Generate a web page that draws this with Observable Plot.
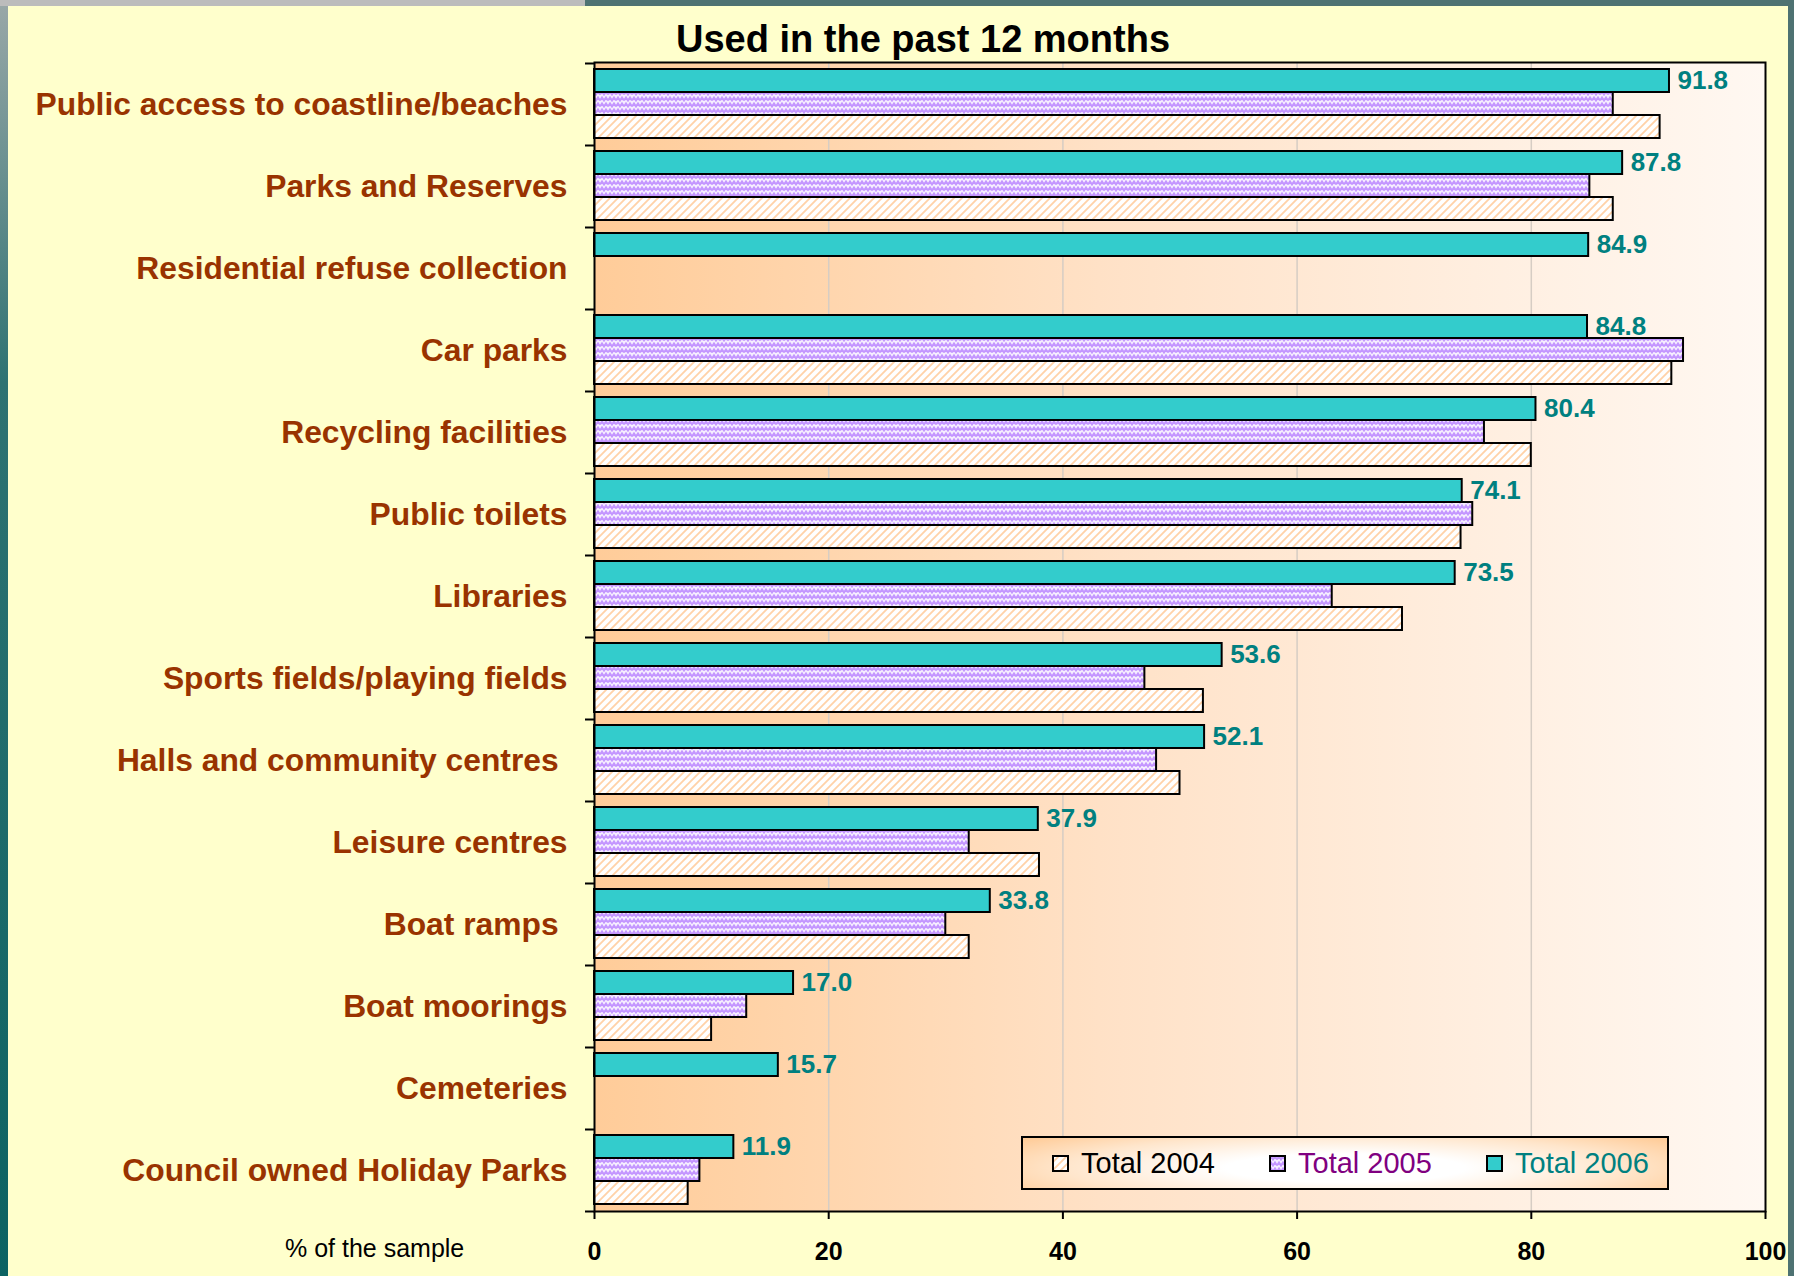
<!DOCTYPE html>
<html>
<head>
<meta charset="utf-8">
<script src="https://cdn.jsdelivr.net/npm/d3@7"></script>
<script src="https://cdn.jsdelivr.net/npm/@observablehq/plot@0.6"></script>
<style>
  html, body { margin: 0; padding: 0; }
  body { width: 1794px; height: 1276px; overflow: hidden; position: relative; background: #4e7272; font-family: "Liberation Sans", Arial, sans-serif; }
  #leftStrip { position: absolute; left: 0; top: 0; width: 8px; height: 1276px; background: linear-gradient(#9aa8a8, #2e7272 30%, #0c6262); }
  #topStrip { position: absolute; left: 0; top: 0; width: 585px; height: 6px; background: #bcbcbc; }
  #panel { position: absolute; left: 8px; top: 6px; width: 1780px; height: 1270px; background: #FFFFCC; }
  #chart { position: absolute; left: 0; top: 0; }
  #title { position: absolute; left: 923px; top: 20px; transform: translateX(-50%); font-size: 38px; font-weight: bold; line-height: 1; color: #000; white-space: nowrap; }
  #xlabel { position: absolute; left: 285px; top: 1236px; font-size: 25px; line-height: 1; color: #000; white-space: nowrap; }
  #legend { position: absolute; left: 1021px; top: 1136px; width: 644px; height: 50px; border: 2px solid #000;
    background: radial-gradient(ellipse 62% 95% at 50% 60%, #ffffff 30%, #ffe6cc 70%, #ffcc99 100%); }
  .item { position: absolute; top: 0; height: 50px; display: flex; align-items: center; font-size: 29px; line-height: 1; white-space: nowrap; }
  .item svg { margin-right: 12px; }
</style>
</head>
<body>
<div id="leftStrip"></div>
<div id="topStrip"></div>
<div id="panel"></div>
<svg width="0" height="0" style="position:absolute">
  <defs>
    <linearGradient id="bgGrad" x1="0" y1="0" x2="1" y2="0">
      <stop offset="0" stop-color="#FFCC99"/>
      <stop offset="0.45" stop-color="#FFE2C8"/>
      <stop offset="1" stop-color="#FFF8F2"/>
    </linearGradient>
    <pattern id="p2004" patternUnits="userSpaceOnUse" width="8" height="8">
      <rect width="8" height="8" fill="#ffffff"/>
      <path d="M-2,2 L2,-2 M0,8 L8,0 M6,10 L10,6" stroke="#FFD2A8" stroke-width="1.8"/>
    </pattern>
    <pattern id="p2005" patternUnits="userSpaceOnUse" width="8" height="6">
      <rect width="8" height="6" fill="#F6EEFF"/>
      <path d="M0,4.5 L2,1.5 L4,4.5 L6,1.5 L8,4.5" stroke="#C496FF" stroke-width="2" fill="none"/>
    </pattern>
  </defs>
</svg>
<div id="chart"></div>
<div id="title">Used in the past 12 months</div>
<div id="xlabel">% of the sample</div>
<div id="legend"></div>
<script>
const categories = [
  "Public access to coastline/beaches",
  "Parks and Reserves",
  "Residential refuse collection",
  "Car parks",
  "Recycling facilities",
  "Public toilets",
  "Libraries",
  "Sports fields/playing fields",
  "Halls and community centres\u00A0",
  "Leisure centres",
  "Boat ramps\u00A0",
  "Boat moorings",
  "Cemeteries",
  "Council owned Holiday Parks"
];
const total2006 = [91.8, 87.8, 84.9, 84.8, 80.4, 74.1, 73.5, 53.6, 52.1, 37.9, 33.8, 17.0, 15.7, 11.9];
const total2005 = [87, 85, null, 93, 76, 75, 63, 47, 48, 32, 30, 13, null, 9];
const total2004 = [91, 87, null, 92, 80, 74, 69, 52, 50, 38, 32, 10, null, 8];
const xTicks = [0, 20, 40, 60, 80, 100];
const gridTicks = [20, 40, 60, 80];
const seriesNames = ["Total 2004", "Total 2005", "Total 2006"];
const seriesColors = ["#000000", "#800080", "#008080"];

const rows = (vals) => categories.map((c, i) => ({category: c, value: vals[i]})).filter(d => d.value != null);
const d2006 = rows(total2006), d2005 = rows(total2005), d2004 = rows(total2004);

const chart = Plot.plot({
  width: 1794,
  height: 1276,
  marginLeft: 594,
  marginRight: 29,
  marginTop: 62,
  marginBottom: 65,
  style: {background: "transparent", fontFamily: "'Liberation Sans', Arial, sans-serif"},
  x: {domain: [0, 100]},
  y: {domain: categories, paddingInner: 0, paddingOuter: 0},
  marks: [
    Plot.frame({fill: "url(#bgGrad)"}),
    Plot.ruleX(gridTicks, {stroke: "#d6cdc4", strokeWidth: 1.5}),
    Plot.barX(d2004, {x: "value", y: "category", fill: "url(#p2004)", stroke: "#000", strokeWidth: 2, insetTop: 52, insetBottom: 7}),
    Plot.barX(d2005, {x: "value", y: "category", fill: "url(#p2005)", stroke: "#000", strokeWidth: 2, insetTop: 29, insetBottom: 30}),
    Plot.barX(d2006, {x: "value", y: "category", fill: "#33CCCC", stroke: "#000", strokeWidth: 2, insetTop: 6, insetBottom: 53}),
    Plot.text(d2006, {x: "value", y: "category", text: d => d.value.toFixed(1), dx: 8, dy: -23.5, textAnchor: "start", fill: "#008080", fontWeight: "bold", fontSize: 26}),
    Plot.frame({stroke: "#000", strokeWidth: 2}),
    Plot.axisX({ticks: xTicks, tickSize: 8, tickPadding: 23, fontSize: 25, fontWeight: "bold", fill: "#000", stroke: "#000", strokeWidth: 2, label: null}),
    Plot.axisY({tickSize: 0, tickPadding: 27, fontSize: 31.8, fontWeight: "bold", fill: "#993300", label: null}),
    Plot.axisY({tickSize: 9, tickFormat: () => "", dy: -41, stroke: "#000", strokeWidth: 2, label: null}),
    Plot.axisY({ticks: [categories[categories.length - 1]], tickSize: 9, tickFormat: () => "", dy: 41, stroke: "#000", strokeWidth: 2, label: null})
  ]
});
document.getElementById("chart").appendChild(chart);

// legend
const legend = document.getElementById("legend");
const fills = ["url(#p2004)", "url(#p2005)", "#33CCCC"];
const offsets = [29, 246, 463];
seriesNames.forEach((name, i) => {
  const item = document.createElement("div");
  item.className = "item";
  item.style.left = offsets[i] + "px";
  item.style.color = seriesColors[i];
  item.innerHTML = `<svg width="17" height="17"><rect x="1" y="1" width="15" height="15" fill="${fills[i]}" stroke="#000" stroke-width="2"/></svg><span>${name}</span>`;
  legend.appendChild(item);
});
</script>
</body>
</html>
